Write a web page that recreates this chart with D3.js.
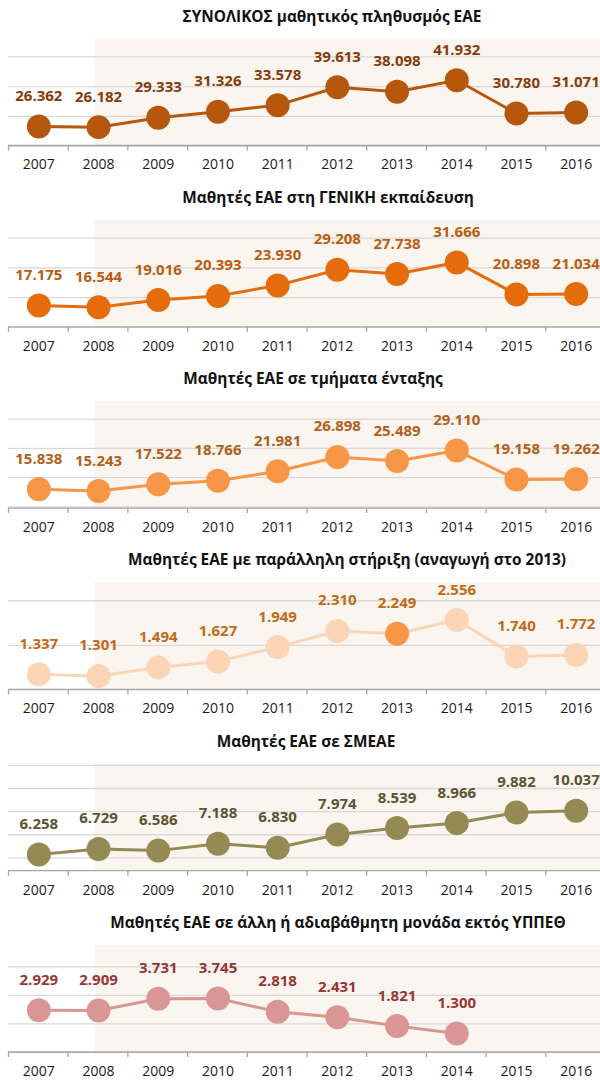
<!DOCTYPE html>
<html>
<head>
<meta charset="utf-8">
<script src="https://cdn.jsdelivr.net/npm/d3@7"></script>
<style>
	body { margin: 0; background: #fff; }
	svg { display: block; }
	text { font-family: 'Open Sans', sans-serif; }
</style>
</head>
<body>
<svg id="chart" width="600" height="1086"></svg>
<script>
var years = ['2007', '2008', '2009', '2010', '2011', '2012', '2013', '2014', '2015', '2016']

var titles = [
	'ΣΥΝΟΛΙΚΟΣ μαθητικός πληθυσμός ΕΑΕ',
	'Μαθητές ΕΑΕ στη ΓΕΝΙΚΗ εκπαίδευση',
	'Μαθητές ΕΑΕ σε τμήματα ένταξης',
	'Μαθητές ΕΑΕ με παράλληλη στήριξη (αναγωγή στο 2013)',
	'Μαθητές ΕΑΕ σε ΣΜΕΑΕ',
	'Μαθητές ΕΑΕ σε άλλη ή αδιαβάθμητη μονάδα εκτός ΥΠΠΕΘ'
]

var totalStudents    = [26362, 26182, 29333, 31326, 33578, 39613, 38098, 41932, 30780, 31071]
var generalEd        = [17175, 16544, 19016, 20393, 23930, 29208, 27738, 31666, 20898, 21034]
var inclusionClasses = [15838, 15243, 17522, 18766, 21981, 26898, 25489, 29110, 19158, 19262]
var parallelSupport  = [1337, 1301, 1494, 1627, 1949, 2310, 2249, 2556, 1740, 1772]
var smeae            = [6258, 6729, 6586, 7188, 6830, 7974, 8539, 8966, 9882, 10037]
var otherUnit        = [2929, 2909, 3731, 3745, 2818, 2431, 1821, 1300, null, null]

// hidden value axes, one per panel (3 gridline steps each)
var yDomains = [[20000, 56000], [10000, 46000], [9400, 46000], [1000, 3400], [4850, 14100], [0, 7500]]

// the one point drawn in a different colour (panel 4)
var highlightYear = [null, null, null, '2013', null, null]

var series = [totalStudents, generalEd, inclusionClasses, parallelSupport, smeae, otherUnit]

var colors = {
	line:  ['#b5570c', '#e46c0a', '#f79646', '#fbd5b5', '#948a54', '#d99694'],
	label: ['#843c0c', '#b85d12', '#b0601a', '#c06a1a', '#5a5432', '#953735'],
	highlight: '#f79646'
}

var layout = {
	firstTop: 38.5,
	step: 181.3,
	plotHeight: 107,
	left: 9,
	right: 606,
	titleX: [332, 328, 313, 347, 306, 338]
}

var fmt = d3.formatLocale({decimal: ',', thousands: '.', grouping: [3], currency: ['', '€']}).format(',d')

var svg = d3.select('#chart')

var xscale = d3.scaleBand().domain(years).range([layout.left, layout.right])

//MARK: one panel per series
series.forEach(function(values, i)
{
	var top = layout.firstTop + i * layout.step
	var bottom = top + layout.plotHeight
	var g = svg.append('g')

	var yscale = d3.scaleLinear().domain(yDomains[i]).range([bottom, top])

	// shaded background from 2008 onwards
	g.append('rect')
		.attr('x', xscale('2008') + xscale.bandwidth() / 2 - 4)
		.attr('y', top)
		.attr('width', 600)
		.attr('height', bottom - top)
		.attr('fill', '#fbf5f0')

	// gridlines
	var gridAxis = d3.axisLeft(yscale).ticks(3).tickSize(-(600 - 8)).tickFormat('')
	g.append('g')
		.attr('transform', 'translate(8,0)')
		.call(gridAxis)
		.call(s => s.select('.domain').remove())
		.call(s => s.selectAll('.tick line').attr('stroke', '#d9d9d9').attr('stroke-width', 1.3))

	// category axis
	var xAxis = g.append('g')
		.attr('transform', 'translate(0,' + bottom + ')')
		.call(d3.axisBottom(xscale).tickSize(0).tickPadding(14))
	xAxis.select('.domain').attr('d', 'M8,0H600').attr('stroke', '#a6a6a6').attr('stroke-width', 1.3)
	xAxis.selectAll('.tick text')
		.attr('fill', '#1a1a1a')
		.style('font-size', '14px')
		.style('font-family', "'Open Sans', sans-serif")

	// tick marks between categories
	g.selectAll('.sep')
		.data(years)
		.enter().append('line')
			.attr('x1', d => xscale(d) - 0.5)
			.attr('x2', d => xscale(d) - 0.5)
			.attr('y1', bottom)
			.attr('y2', bottom + 5)
			.attr('stroke', '#a6a6a6')
			.attr('stroke-width', 1.3)

	var points = years.map((y, k) => ({year: y, value: values[k]})).filter(d => d.value != null)

	var line = d3.line()
		.x(d => xscale(d.year) + xscale.bandwidth() / 2)
		.y(d => yscale(d.value))

	g.append('path')
		.datum(points)
		.attr('d', line)
		.attr('fill', 'none')
		.attr('stroke', colors.line[i])
		.attr('stroke-width', 3)

	g.selectAll('.dot')
		.data(points)
		.enter().append('circle')
			.attr('cx', d => xscale(d.year) + xscale.bandwidth() / 2)
			.attr('cy', d => yscale(d.value))
			.attr('r', 12)
			.attr('fill', d => d.year == highlightYear[i] ? colors.highlight : colors.line[i])

	g.selectAll('.val')
		.data(points)
		.enter().append('text')
			.attr('x', d => xscale(d.year) + xscale.bandwidth() / 2)
			.attr('y', d => yscale(d.value) - 25.5)
			.attr('text-anchor', 'middle')
			.attr('fill', colors.label[i])
			.style('font-size', '15px')
			.style('font-weight', 'bold')
			.text(d => fmt(d.value))

	svg.append('text')
		.attr('x', layout.titleX[i])
		.attr('y', top - 17)
		.attr('text-anchor', 'middle')
		.attr('fill', '#111')
		.style('font-size', '15.4px')
		.style('font-weight', 'bold')
		.text(titles[i])
})
</script>
</body>
</html>
